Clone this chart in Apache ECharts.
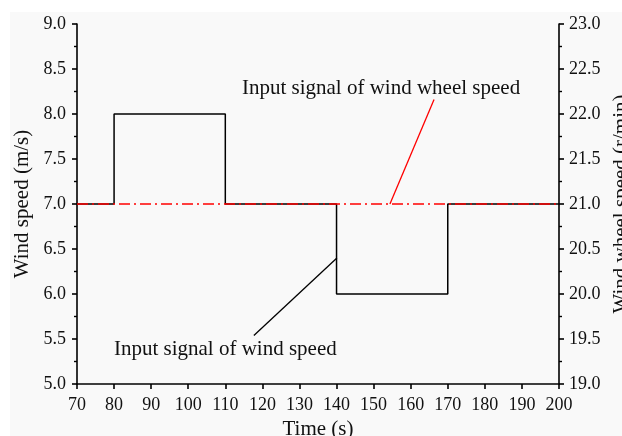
<!DOCTYPE html>
<html><head><meta charset="utf-8">
<script src="https://cdn.jsdelivr.net/npm/echarts@6/dist/echarts.min.js"></script>
<style>html,body{margin:0;padding:0;background:#fff}#c{width:622px;height:436px}</style>
</head><body><div id="c"></div>
<script>
// Data
const windTime = [70, 80, 80, 110, 110, 140, 140, 170, 170, 200];
const windSpeed = [7, 7, 8, 8, 7, 7, 6, 6, 7, 7];
const wheelTime = [70, 200];
const wheelSpeed = [21, 21];
const xTicks = {min: 70, max: 200, interval: 10};
const leftTicks = {min: 5, max: 9, interval: 0.5};
const rightTicks = {min: 19, max: 23, interval: 0.5};
const wheelLabel = 'Input signal of wind wheel speed';
const windLabel = 'Input signal of wind speed';
// annotation anchors (data coordinates)
const wheelLeader = [[154.4, 21.0], [166.3, 22.16]];
const wheelTextPos = [152, 22.28];
const windLeader = [[140.1, 6.4], [117.7, 5.54]];
const windTextPos = [110, 5.38];

const font = 'Liberation Serif';
const chart = echarts.init(document.getElementById('c'));
const axisCommon = {
  axisLine: {show: true, lineStyle: {color: '#000', width: 1.6}},
  axisTick: {show: true, inside: false, length: 5, lineStyle: {color: '#000', width: 1.6}},
  axisLabel: {color: '#111', fontFamily: font, fontSize: 18},
  splitLine: {show: false},
  nameTextStyle: {color: '#111', fontFamily: font, fontSize: 21}
};
chart.setOption({
  backgroundColor: '#ffffff',
  animation: false,
  graphic: [{type: 'rect', z: -10, shape: {x: 10, y: 12, width: 622, height: 430}, style: {fill: '#f9f9f9'}}],
  grid: {left: 77, right: 63, top: 24, bottom: 52, outerBoundsMode: 'none', containLabel: false},
  xAxis: Object.assign({}, axisCommon, {
    type: 'value', min: xTicks.min, max: xTicks.max, interval: xTicks.interval,
    name: 'Time (s)', nameLocation: 'middle', nameGap: 33,
    axisLabel: Object.assign({}, axisCommon.axisLabel, {margin: 12})
  }),
  yAxis: [
    Object.assign({}, axisCommon, {
      type: 'value', min: leftTicks.min, max: leftTicks.max, interval: leftTicks.interval,
      position: 'left', name: 'Wind speed (m/s)', nameLocation: 'middle', nameRotate: 90, nameGap: 44,
      minorTick: {show: true, splitNumber: 2, length: 3, lineStyle: {color: '#000', width: 1.4}},
      axisLabel: Object.assign({}, axisCommon.axisLabel, {margin: 11, formatter: v => v.toFixed(1)})
    }),
    Object.assign({}, axisCommon, {
      type: 'value', min: rightTicks.min, max: rightTicks.max, interval: rightTicks.interval,
      position: 'right', name: 'Wind wheel speed (r/min)', nameLocation: 'middle', nameRotate: 90, nameGap: 39,
      minorTick: {show: true, splitNumber: 2, length: 3, lineStyle: {color: '#000', width: 1.4}},
      axisLabel: Object.assign({}, axisCommon.axisLabel, {margin: 10, formatter: v => v.toFixed(1)})
    })
  ],
  series: [
    {
      type: 'line', yAxisIndex: 0, symbol: 'none', z: 2,
      data: windTime.map((t, i) => [t, windSpeed[i]]),
      lineStyle: {color: '#000', width: 1.5},
      markLine: {
        silent: true, symbol: ['none', 'none'], label: {show: false},
        lineStyle: {color: '#000', width: 1.3, type: 'solid'},
        data: [[{coord: windLeader[0]}, {coord: windLeader[1]}]]
      },
      markPoint: {
        symbol: 'circle', symbolSize: 0,
        label: {show: true, position: 'inside', formatter: windLabel, color: '#111', fontFamily: font, fontSize: 21},
        data: [{coord: windTextPos}]
      }
    },
    {
      type: 'line', yAxisIndex: 1, symbol: 'none', z: 3,
      data: wheelTime.map((t, i) => [t, wheelSpeed[i]]),
      lineStyle: {color: '#ff0000', width: 1.5, type: [11, 4, 2, 4]},
      markLine: {
        silent: true, symbol: ['none', 'none'], label: {show: false},
        lineStyle: {color: '#ff0000', width: 1.3, type: 'solid'},
        data: [[{coord: wheelLeader[0]}, {coord: wheelLeader[1]}]]
      },
      markPoint: {
        symbol: 'circle', symbolSize: 0,
        label: {show: true, position: 'inside', formatter: wheelLabel, color: '#111', fontFamily: font, fontSize: 21},
        data: [{coord: wheelTextPos}]
      }
    }
  ]
});
</script></body></html>
